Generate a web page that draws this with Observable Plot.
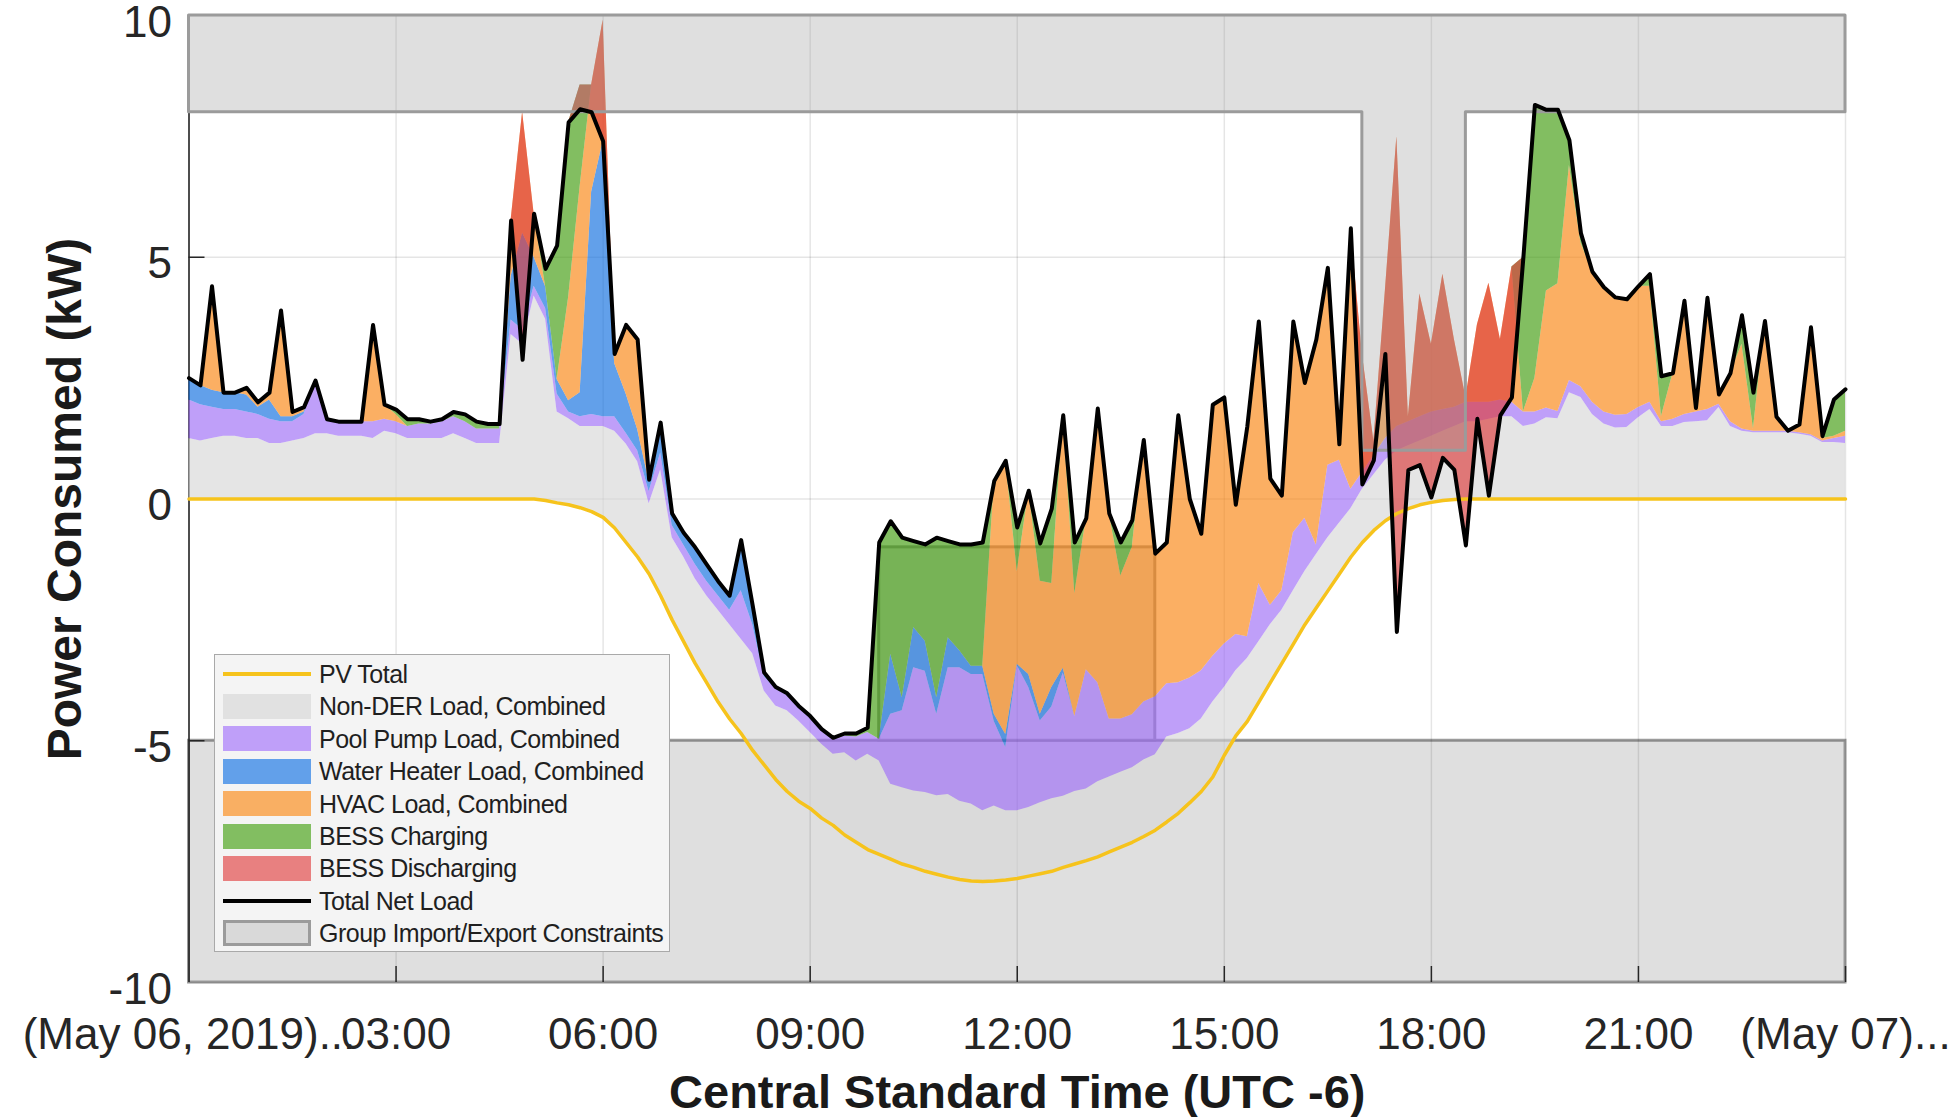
<!DOCTYPE html>
<html>
<head>
<meta charset="utf-8">
<script src="https://cdn.jsdelivr.net/npm/d3@7"></script>
<script src="https://cdn.jsdelivr.net/npm/@observablehq/plot@0.6"></script>
<style>
  html, body { margin: 0; padding: 0; background: #fff; }
  #wrap { position: relative; width: 1960px; height: 1117px; overflow: hidden; font-family: "Liberation Sans", Arial, sans-serif; }
  #legend { position: absolute; left: 214px; top: 654px; width: 456px; height: 298px; box-sizing: border-box; background: #f4f4f4; border: 1.5px solid #a9a9a9; }
  .sw { position: absolute; left: 8px; width: 88px; box-sizing: border-box; }
  .lab { position: absolute; left: 104px; font-size: 25px; letter-spacing: -0.5px; color: #1f1f1f; white-space: nowrap; line-height: 28px; height: 28px; }
</style>
</head>
<body>
<div id="wrap"></div>
<script>
// ---- sampling grid: one sample every 10 minutes, 00:00 (May 06) to 24:00 ----
const sampleMinutes = 10;
const times = d3.range(0, 24 * 60 / sampleMinutes + 1).map(i => i * sampleMinutes / 60);

// ---- series (kW), one row per hour (6 samples), last value = 24:00 ----
const pvTotal = [
  0,0,0,0,0,0,
  0,0,0,0,0,0,
  0,0,0,0,0,0,
  0,0,0,0,0,0,
  0,0,0,0,0,0,
  0,-0.03,-0.08,-0.12,-0.18,-0.26,
  -0.38,-0.6,-0.9,-1.2,-1.55,-2.0,
  -2.5,-2.95,-3.4,-3.8,-4.2,-4.55,
  -4.85,-5.2,-5.5,-5.8,-6.05,-6.25,
  -6.4,-6.6,-6.75,-6.95,-7.1,-7.25,
  -7.35,-7.45,-7.55,-7.62,-7.7,-7.76,
  -7.82,-7.87,-7.9,-7.91,-7.9,-7.88,
  -7.85,-7.8,-7.75,-7.7,-7.62,-7.55,
  -7.48,-7.4,-7.3,-7.2,-7.1,-6.98,
  -6.85,-6.68,-6.5,-6.28,-6.05,-5.75,
  -5.3,-4.9,-4.6,-4.2,-3.8,-3.4,
  -3.0,-2.6,-2.25,-1.9,-1.55,-1.2,
  -0.9,-0.65,-0.45,-0.3,-0.2,-0.12,
  -0.07,-0.03,-0.01,0,0,0,
  0,0,0,0,0,0,
  0,0,0,0,0,0,
  0,0,0,0,0,0,
  0,0,0,0,0,0,
  0,0,0,0,0,0,
  0
];
const nonDerLoad = [
  1.25,1.2,1.25,1.3,1.3,1.25,
  1.25,1.15,1.15,1.2,1.25,1.35,
  1.35,1.3,1.3,1.3,1.25,1.4,
  1.35,1.25,1.25,1.25,1.25,1.35,
  1.25,1.15,1.15,1.15,3.4,3.2,
  4.2,3.75,1.88,1.78,1.68,1.76,
  1.88,2.0,2.04,1.97,1.45,2.6,
  1.7,1.75,1.75,1.8,1.9,1.95,
  1.95,2.0,1.53,1.52,1.67,1.66,
  1.57,1.53,1.47,1.7,1.68,1.97,
  1.93,1.55,1.58,1.58,1.63,1.62,
  1.71,1.62,1.59,1.46,1.55,1.43,
  1.4,1.42,1.47,1.5,1.47,1.5,
  1.48,1.55,1.55,1.55,1.54,1.58,
  1.56,1.76,1.65,1.53,1.5,1.55,
  1.4,1.35,1.3,1.25,1.2,1.1,
  1.1,1.1,1.1,1.1,1.05,1.0,
  1.1,1.15,1.25,1.3,1.3,1.32,
  1.37,1.43,1.51,1.6,1.6,1.65,
  1.7,1.7,1.5,1.55,1.68,1.66,
  2.2,2.1,1.75,1.55,1.47,1.48,
  1.68,1.85,1.5,1.5,1.58,1.6,
  1.62,1.89,1.5,1.4,1.37,1.37,
  1.37,1.37,1.34,1.3,1.17,1.17,
  1.15
];
const poolPumpLoad = [
  0.8,0.75,0.65,0.55,0.55,0.55,
  0.5,0.5,0.45,0.4,0.5,1.1,
  0.3,0.3,0.3,0.3,0.35,0.25,
  0.25,0.25,0.3,0.3,0.35,0.35,
  0.35,0.3,0.3,0.3,0.3,0.3,
  0.2,0.22,0.37,0.14,0.2,0.25,
  0.2,0.3,0.22,0.23,0.25,0.35,
  0.25,0.25,0.3,0.3,0.3,0.3,
  1.0,0.6,0.3,0.35,0.32,0.27,
  0.3,0.27,0.3,0.35,0.5,0.45,
  0.45,1.45,1.59,2.55,2.51,1.69,
  2.62,2.76,2.68,2.82,1.75,1.31,
  3.0,2.48,1.69,1.9,2.55,1.55,
  2.47,2.05,1.2,1.1,1.1,1.2,
  1.2,1.1,1.05,1.05,1.0,0.95,
  0.9,0.75,0.45,1.2,0.4,0.4,
  1.2,1.1,0.2,1.5,1.3,0.4,
  0.35,0.4,0.45,0.5,0.5,0.5,
  0.5,0.45,0.4,0.4,0.4,0.35,
  0.35,0.3,0.3,0.25,0.2,0.15,
  0.25,0.22,0.25,0.25,0.26,0.27,
  0.21,0.15,0.1,0.15,0.17,0.2,
  0.23,0.07,0.1,0.05,0.03,0.03,
  0.03,0.03,0.03,0.03,0.03,0.08,
  0.15
];
const waterHeaterLoad = [
  0.45,0.4,0.35,0.35,0.35,0.35,
  0.15,0.4,0.1,0.1,0.05,0,
  0,0,0,0,0,0,
  0,0,0,0,0,0,
  0,0,0,0,0.9,2.0,
  0.6,0.45,0.3,0.23,0.5,4.6,
  5.7,1.1,0.81,0.44,0.2,0.55,
  0.25,0.25,0.3,0.3,0.25,0.3,
  1.05,0.4,0.05,0.04,0.04,0.04,
  0.04,0,0,0,0,0,
  0,1.24,0.27,0.83,0.62,0.34,
  0.62,0.35,0.17,0.17,0.15,0.27,
  0.03,0.27,0.14,0.4,0.1,0,
  0,0,0,0,0,0,
  0,0,0,0,0,0,
  0,0,0,0,0,0,
  0,0,0,0,0,0,
  0,0,0,0,0,0,
  0,0,0,0,0,0,
  0,0,0,0,0,0,
  0,0,0,0,0,0,
  0,0,0,0,0,0,
  0,0,0,0,0,0,
  0,0,0,0,0,0,
  0
];
const hvacLoad = [
  0,0,2.15,0,0,0.15,
  0.1,0.15,2.2,0.1,0.1,0,
  0,0,0,0,2.0,0.3,
  0.15,0,0,0,0,0,
  0,0,0,0,1.16,2.5,
  0.9,0,0,2.14,4.26,2.21,
  2.5,0.2,1.43,1.86,0.05,0.08,
  0,0,0,0,0,0,
  0,0,0,0,0,0,
  0,0,0,0,0,0,
  0,0,0,0,0,0,
  0,0,0,0,4.82,5.66,
  1.92,3.8,2.75,2.15,5.23,2.54,
  3.13,5.67,4.25,2.96,3.46,5.42,
  2.96,2.92,5.53,3.7,2.83,5.2,
  5.1,2.68,4.35,5.42,2.62,1.97,
  4.37,2.8,4.25,4.08,0.33,5.4,
  2.45,0.3,3.05,5.99,0.1,2.54,
  1.4,2.8,1.4,0.1,1.6,2.46,
  1.25,2.8,0,0.7,2.42,2.64,
  4.45,2.98,2.7,2.58,2.44,2.38,
  2.51,2.4,0.1,0.95,2.35,0.08,
  2.31,0.2,1.0,1.75,0.05,2.28,
  0.3,0.01,0.17,2.22,0.05,0.05,
  0.1
];
const bessCharging = [
  0,0,0,0,0,0,
  0,0,0,0,0,0,
  0,0,0,0,0,0,
  0.1,0.15,0.1,0.05,0.05,0.1,
  0.15,0.15,0.1,0.1,0,0,
  0,0.37,2.77,3.62,2.1,0,
  0,0,0,0,0,0,
  0,0,0.05,0.05,0.05,0,
  0,0,0.03,0,0,0,
  0,0.04,0.04,0.05,0.07,0.1,
  4.07,2.75,3.31,1.79,2.0,3.31,
  2.0,2.2,2.52,2.56,0,0,
  0.91,0,0.78,1.55,0,1.06,
  0,0,0,0.69,0.56,0,
  0,0,0,0,0,0,
  0,0,0,0,0,0,
  0,0,0,0,0,0,
  0,0,0,0,0,0,
  0,0,0,0,0,0,
  0,0,3.2,5.65,3.75,3.6,
  0.52,0.2,0,0,0,0,
  0,0.25,0.84,0,0,0,
  0,0,0,0.6,0.75,0,
  0,0,0,0,0.05,0.76,
  0.87
];
const bessDischarging = [
  0,0,0,0,0,0,
  0,0,0,0,0,0,
  0,0,0,0,0,0,
  0,0,0,0,0,0,
  0,0,0,0,0,5.12,
  0,0,0,0,0.5,0.56,
  2.5,0,0,0,0,0,
  0,0,0,0,0,0,
  0,0,0,0,0,0,
  0,0,0,0,0,0,
  0,0,0,0,0,0,
  0,0,0,0,0,0,
  0,0,0,0,0,0,
  0,0,0,0,0,0,
  0,0,0,0,0,0,
  0,0,0,0,0,0,
  0,0,0,0,0,0,
  2.7,0.4,1.3,10.24,1.1,3.54,
  3.17,3.8,2.7,3.06,1.94,4.39,
  1.57,2.7,0,0,0,0,
  0,0,0,0,0,0,
  0,0,0,0,0,0,
  0,0,0,0,0,0,
  0,0,0,0,0,0,
  0
];

// ---- group import / export constraints (kW), step changes at these hours ----
const importLimitHour = [0, 17, 18.5, 24];
const importLimitKW   = [8, 1, 8, 8];
const exportLimitHour = [0, 10, 14, 24];
const exportLimitKW   = [-5, -1, -5, -5];

// ---- axis ticks ----
const xTickHours  = [0, 3, 6, 9, 12, 15, 18, 21, 24];
const xTickLabels = ["(May 06, 2019)...", "03:00", "06:00", "09:00", "12:00", "15:00", "18:00", "21:00", "(May 07)..."];
const yTicks = [-10, -5, 0, 5, 10];

// ---- legend ----
const legendLabels = ["PV Total", "Non-DER Load, Combined", "Pool Pump Load, Combined", "Water Heater Load, Combined",
  "HVAC Load, Combined", "BESS Charging", "BESS Discharging", "Total Net Load", "Group Import/Export Constraints"];

// colours (area colours are drawn semi-transparent, alpha = areaAlpha)
const areaAlpha = 0.65;
const C = {
  pv: "#f6c31c", nonDer: "rgb(215,215,215)", pool: "rgb(157,107,246)", wh: "rgb(14,109,223)",
  hvac: "rgb(249,132,15)", charge: "rgb(63,155,12)", discharge: "rgb(220,60,60)", net: "#000000",
  bandFill: "#dfdfdf", overlayFill: "rgb(160,160,160)", constrStroke: "#9b9b9b"
};

// ---- build stacked table ----
const rows = times.map((t, i) => {
  const b0 = pvTotal[i];
  const b1 = b0 + nonDerLoad[i];
  const b2 = b1 + poolPumpLoad[i];
  const b3 = b2 + waterHeaterLoad[i];
  const b4 = b3 + hvacLoad[i];
  const b5 = b4 + bessCharging[i];
  const net = b5 - bessDischarging[i];
  return {t, b0, b1, b2, b3, b4, b5, net, pv: pvTotal[i]};
});
const importSteps = importLimitHour.map((t, i) => ({t, lim: importLimitKW[i]}));
const baseExport = exportLimitKW[0];
const exportBand = [{x1: exportLimitHour[0], x2: exportLimitHour[exportLimitHour.length - 1], y1: -10, y2: baseExport}];
const exportWindows = exportLimitHour.slice(0, -1)
  .map((t, i) => ({x1: t, x2: exportLimitHour[i + 1], y1: baseExport, y2: exportLimitKW[i]}))
  .filter(d => d.y2 !== baseExport);

const W = 1960, H = 1117;
const mL = 188.5, mR = 115, mT = 15, mB = 135;
const pxPerHour = (W - mL - mR) / 24;
const pxPerKW = (H - mT - mB) / 20;
const tickLen = 16;

const chart = Plot.plot({
  width: W, height: H,
  marginLeft: mL, marginRight: mR, marginTop: mT, marginBottom: mB,
  style: {fontFamily: "'Liberation Sans', Arial, sans-serif", background: "white", overflow: "visible"},
  x: {domain: [0, 24], axis: null},
  y: {domain: [-10, 10], axis: null},
  marks: [
    // export constraint (drawn beneath the data)
    Plot.rect(exportBand, {x1: "x1", x2: "x2", y1: "y1", y2: "y2", fill: C.bandFill, stroke: C.constrStroke, strokeWidth: 3}),
    Plot.rect(exportWindows, {x1: "x1", x2: "x2", y1: "y1", y2: "y2", fill: C.bandFill, stroke: C.constrStroke, strokeWidth: 3}),
    // grid
    Plot.ruleX(xTickHours, {x: d => d, stroke: "#000", strokeOpacity: 0.1, strokeWidth: 1.5}),
    Plot.ruleY(yTicks, {y: d => d, stroke: "#000", strokeOpacity: 0.1, strokeWidth: 1.5}),
    // left axis line
    Plot.ruleX([0], {x: d => d, stroke: "#1a1a1a", strokeWidth: 1.5}),
    // stacked loads (semi-transparent)
    Plot.areaY(rows, {x: "t", y1: "b0", y2: "b1", fill: C.nonDer, fillOpacity: areaAlpha}),
    Plot.areaY(rows, {x: "t", y1: "b1", y2: "b2", fill: C.pool, fillOpacity: areaAlpha}),
    Plot.areaY(rows, {x: "t", y1: "b2", y2: "b3", fill: C.wh, fillOpacity: areaAlpha}),
    Plot.areaY(rows, {x: "t", y1: "b3", y2: "b4", fill: C.hvac, fillOpacity: areaAlpha}),
    Plot.areaY(rows, {x: "t", y1: "b4", y2: "b5", fill: C.charge, fillOpacity: areaAlpha}),
    Plot.areaY(rows, {x: "t", y1: "net", y2: "b5", fill: C.discharge, fillOpacity: areaAlpha}),
    // import constraint (overlaid)
    Plot.areaY(importSteps, {x: "t", y1: "lim", y2: 10, curve: "step-after", fill: C.overlayFill, fillOpacity: 0.335, stroke: C.constrStroke, strokeWidth: 3}),
    // inward ticks
    Plot.ruleX(xTickHours.slice(1), {x: d => d, y1: -10, y2: -10 + tickLen / pxPerKW, stroke: "#262626", strokeWidth: 1.5}),
    Plot.ruleY(yTicks.slice(1, -1), {y: d => d, x1: 0, x2: tickLen / pxPerHour, stroke: "#262626", strokeWidth: 1.5}),
    // lines
    Plot.lineY(rows, {x: "t", y: "pv", stroke: C.pv, strokeWidth: 3.5}),
    Plot.lineY(rows, {x: "t", y: "net", stroke: C.net, strokeWidth: 4, strokeLinejoin: "round"}),
    // tick labels
    Plot.text(xTickHours, {x: d => d, text: (d, i) => xTickLabels[i], frameAnchor: "bottom", dy: 52, fontSize: 44, fill: "#262626", lineAnchor: "middle", textAnchor: "middle"}),
    Plot.text(yTicks, {y: d => d, text: d => String(d), frameAnchor: "left", dx: -17, dy: 7, textAnchor: "end", fontSize: 44, fill: "#262626", lineAnchor: "middle"}),
    // axis titles
    Plot.text(["Power Consumed (kW)"], {text: d => d, frameAnchor: "left", dx: -123, rotate: -90, textAnchor: "middle", fontSize: 48, fontWeight: "bold", fill: "#1a1a1a", lineAnchor: "middle"}),
    Plot.text(["Central Standard Time (UTC -6)"], {text: d => d, frameAnchor: "bottom", dy: 110, textAnchor: "middle", fontSize: 47, fontWeight: "bold", fill: "#1a1a1a", lineAnchor: "middle"})
  ]
});

const wrap = document.getElementById("wrap");
wrap.appendChild(chart);

// ---- legend (HTML overlay inside the axes) ----
const legend = document.createElement("div");
legend.id = "legend";
const swatchStyles = [
  {kind: "line", color: C.pv},
  {kind: "patch", color: "#e1e1e1"},
  {kind: "patch", color: "#bf9ff9"},
  {kind: "patch", color: "#62a0ea"},
  {kind: "patch", color: "#f9af63"},
  {kind: "patch", color: "#82be61"},
  {kind: "patch", color: "#e88080"},
  {kind: "line", color: C.net},
  {kind: "box", color: "#d9d9d9"}
];
legendLabels.forEach((label, k) => {
  const cy = 19 + 32.4 * k;
  const s = swatchStyles[k];
  const sw = document.createElement("div");
  sw.className = "sw";
  if (s.kind === "line") {
    sw.style.top = (cy - 2) + "px"; sw.style.height = "4px"; sw.style.background = s.color;
  } else if (s.kind === "patch") {
    sw.style.top = (cy - 12.5) + "px"; sw.style.height = "25px"; sw.style.background = s.color;
  } else {
    sw.style.top = (cy - 13) + "px"; sw.style.height = "26px"; sw.style.background = s.color;
    sw.style.border = "3px solid " + C.constrStroke;
  }
  legend.appendChild(sw);
  const lab = document.createElement("div");
  lab.className = "lab";
  lab.style.top = (cy - 14) + "px";
  lab.textContent = label;
  legend.appendChild(lab);
});
wrap.appendChild(legend);
</script>
</body>
</html>
